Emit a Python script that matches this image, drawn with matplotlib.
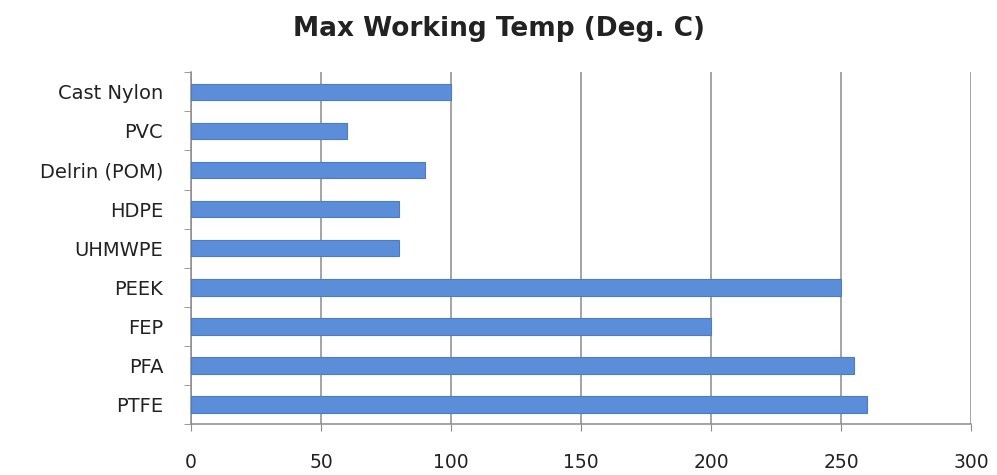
import matplotlib.pyplot as plt
import numpy as np

# materiali dhe temperatura maksimale e punes (nga poshte lart)
materialet = ["PTFE", "PFA", "FEP", "PEEK", "UHMWPE", "HDPE",
              "Delrin (POM)", "PVC", "Cast Nylon"]
temperaturat = [260, 255, 200, 250, 80, 80, 90, 60, 100]
x_ticks = [0, 50, 100, 150, 200, 250, 300]

plt.rcParams['font.family'] = ['DejaVu Sans']

fig = plt.figure(figsize=(9.97, 4.75), dpi=100)
ax = fig.add_axes([0.1916, 0.107, 0.7824, 0.741])

y = np.arange(len(materialet))
ax.barh(y, temperaturat, height=0.42, color="#5b8dd9",
        edgecolor="#4a7cc8", linewidth=0.8, zorder=3)

ax.set_xlim(0, 300)
ax.set_ylim(-0.5, len(materialet) - 0.5)

# vijat vertikale te rrjetes
ax.set_xticks(x_ticks)
ax.grid(axis="x", color="#8c8c8c", linewidth=1.1, zorder=0)
ax.tick_params(axis="x", direction="out", length=5, color="#8c8c8c",
               pad=16, labelsize=13.5, labelcolor="#222222")

# emrat ne qender, vizat ne kufijte e kategorive
ax.set_yticks(y)
ax.set_yticklabels(materialet)
ax.tick_params(axis="y", which="major", length=0, pad=20,
               labelsize=14, labelcolor="#222222")
ax.set_yticks(np.arange(len(materialet) + 1) - 0.5, minor=True)
ax.tick_params(axis="y", which="minor", direction="out", length=5,
               color="#8c8c8c")

for s in ["top", "right"]:
    ax.spines[s].set_visible(False)
for s in ["left", "bottom"]:
    ax.spines[s].set_color("#8c8c8c")
    ax.spines[s].set_linewidth(1.1)

fig.text(0.5, 0.94, "Max Working Temp (Deg. C)", ha="center", va="center",
         fontsize=19, fontweight="bold", color="#222222")

fig.savefig("out.png", dpi=100)
